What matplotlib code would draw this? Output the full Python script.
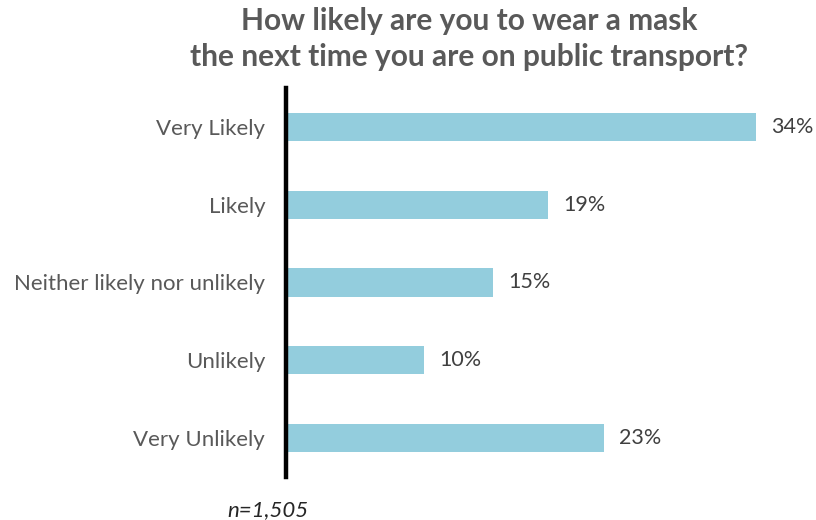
import matplotlib

matplotlib.use("Agg")
import matplotlib.pyplot as plt

categories = ["Very Likely", "Likely", "Neither likely nor unlikely", "Unlikely", "Very Unlikely"]
shares = [34, 19, 15, 10, 23]
value_labels = ["34%", "19%", "15%", "10%", "23%"]
title = "How likely are you to wear a mask\nthe next time you are on public transport?"
note = "n=1,505"

plt.rcParams["font.family"] = ["Lato", "DejaVu Sans"]

fig = plt.figure(figsize=(8.16, 5.2), dpi=100)
ax = fig.add_axes([286 / 816, 43 / 520, 511 / 816, 389 / 520])

positions = list(range(len(categories)))
ax.barh(positions, shares, height=0.36, color="#93cddd", edgecolor="none")
ax.set_ylim(len(categories) - 0.5, -0.5)
ax.set_xlim(0, 37)

for pos, val, lab in zip(positions, shares, value_labels):
    ax.text(val + 1.1, pos, lab, va="center", ha="left", fontsize=15.5, color="#404040")

ax.set_yticks(positions)
ax.set_yticklabels(categories, fontsize=16, color="#595959")
ax.tick_params(axis="y", length=0, pad=15)
ax.set_xticks([])

for side in ["top", "right", "bottom"]:
    ax.spines[side].set_visible(False)
ax.spines["left"].set_linewidth(3.2)
ax.spines["left"].set_color("black")

fig.text(469 / 816, 1 - 39 / 520, title, ha="center", va="center", fontsize=21.5,
         fontweight="bold", color="#595959", linespacing=1.33)
fig.text(268 / 816, 1 - 510 / 520, note, ha="center", va="center", fontsize=16,
         style="italic", color="#262626")

fig.savefig("out.png", dpi=100)
